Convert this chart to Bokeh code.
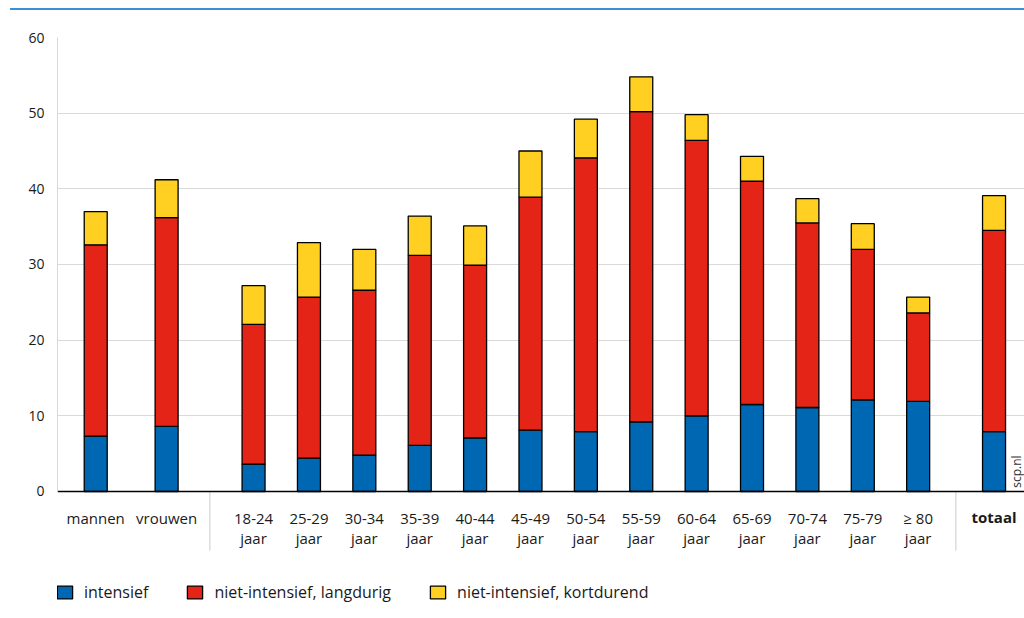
import math
from bokeh.plotting import figure
from bokeh.models import (ColumnDataSource, FixedTicker, Legend, Label, Div)
from bokeh.layouts import column
from bokeh.embed import file_html
from bokeh.resources import INLINE

# ---- data ----
categories = ["mannen", "vrouwen", "18-24\njaar", "25-29\njaar", "30-34\njaar",
              "35-39\njaar", "40-44\njaar", "45-49\njaar", "50-54\njaar",
              "55-59\njaar", "60-64\njaar", "65-69\njaar", "70-74\njaar",
              "75-79\njaar", "≥ 80\njaar", "totaal"]
intensief = [7.3, 8.6, 3.6, 4.4, 4.8, 6.1, 7.1, 8.1, 7.9, 9.2, 10.0, 11.5, 11.1, 12.1, 11.9, 7.9]
langdurig = [25.3, 27.6, 18.5, 21.3, 21.8, 25.1, 22.8, 30.8, 36.2, 41.0, 36.4, 29.5, 24.4, 19.9, 11.7, 26.6]
kortdurend = [4.4, 5.0, 5.1, 7.2, 5.4, 5.2, 5.2, 6.1, 5.1, 4.6, 3.4, 3.3, 3.2, 3.4, 2.1, 4.6]
series_labels = ["intensief", "niet-intensief, langdurig", "niet-intensief, kortdurend"]
y_ticks = [0, 10, 20, 30, 40, 50, 60]

# ---- layout (slot positions along the x axis) ----
slots = [-2.85, -1.57] + list(range(13)) + [13.37]
separators = [-0.79, 12.68]
sep_depth = -7.8          # how far the group separators reach below the axis
colors = ["#0067b3", "#e32416", "#ffd021"]
FONT = "Open Sans"

src = ColumnDataSource(dict(x=slots, a=intensief, b=langdurig, c=kortdurend))

H = 606
p = figure(width=1024, height=H, output_backend="svg", toolbar_location=None,
           x_range=(-3.54, 13.92), y_range=(-16.52, 60),
           min_border_left=57, min_border_top=27, min_border_right=0,
           min_border_bottom=0)
p.outline_line_color = None
p.background_fill_color = "white"
p.border_fill_color = "white"

rs = p.vbar_stack(["a", "b", "c"], x="x", width=0.415, color=colors,
                  line_color="black", line_width=1.3, source=src)

# group separators below the axis
p.segment(x0=separators, y0=[0] * len(separators), x1=separators,
          y1=[sep_depth] * len(separators), line_color="#dddddd", line_width=1.5)

# y axis
p.yaxis.ticker = FixedTicker(ticks=y_ticks)
p.yaxis.bounds = (0, 60)
p.yaxis.axis_line_color = "#d9d9d9"
p.yaxis.major_tick_line_color = None
p.yaxis.minor_tick_line_color = None
p.yaxis.major_label_text_font = FONT
p.yaxis.major_label_text_font_size = "14px"
p.yaxis.major_label_text_color = "#1a1a1a"
p.yaxis.major_label_standoff = 7
p.ygrid.grid_line_color = "#dadada"
p.ygrid.grid_line_width = 1
p.xgrid.grid_line_color = None

# x axis, drawn at y = 0
xa = p.xaxis[0]
xa.fixed_location = 0
xa.ticker = FixedTicker(ticks=slots)
overrides = {s: c for s, c in zip(slots, categories)}
overrides[slots[-1]] = ""
xa.major_label_overrides = overrides
xa.axis_line_color = "black"
xa.axis_line_width = 1.6
xa.major_tick_line_color = None
xa.minor_tick_line_color = None
xa.major_label_text_font = FONT
xa.major_label_text_font_size = "15px"
xa.major_label_text_color = "#1a1a1a"
xa.major_label_text_line_height = 1.0
xa.major_label_standoff = 11

# bold "totaal" label
p.add_layout(Label(x=slots[-1], y=-2.0, text=categories[-1], text_align="center",
                   text_baseline="top", text_font=FONT, text_font_size="15px",
                   text_font_style="bold", text_color="#1a1a1a"))
# source note
p.add_layout(Label(x=13.62, y=0.5, text="scp.nl", angle=math.pi / 2,
                   text_baseline="top", text_align="left", text_font=FONT,
                   text_font_size="12px", text_color="#333333"))

legend = Legend(items=[(lab, [r]) for lab, r in zip(series_labels, rs)],
                orientation="horizontal", location=(-2, 13))
legend.margin = 0
legend.padding = 0
legend.spacing = 37
legend.label_standoff = 10
legend.glyph_width = 19
legend.glyph_height = 16
legend.label_height = 16
legend.label_text_font = FONT
legend.label_text_font_size = "16px"
legend.label_text_color = "#1a1a1a"
legend.border_line_color = None
legend.background_fill_alpha = 0
p.add_layout(legend, "center")

bar = Div(text="", width=1014, height=2, margin=(8, 0, 0, 10),
          styles={"background-color": "#3a8fd6"})
layout = column(bar, p, spacing=0)

open("out.html", "w").write(file_html(layout, INLINE))
